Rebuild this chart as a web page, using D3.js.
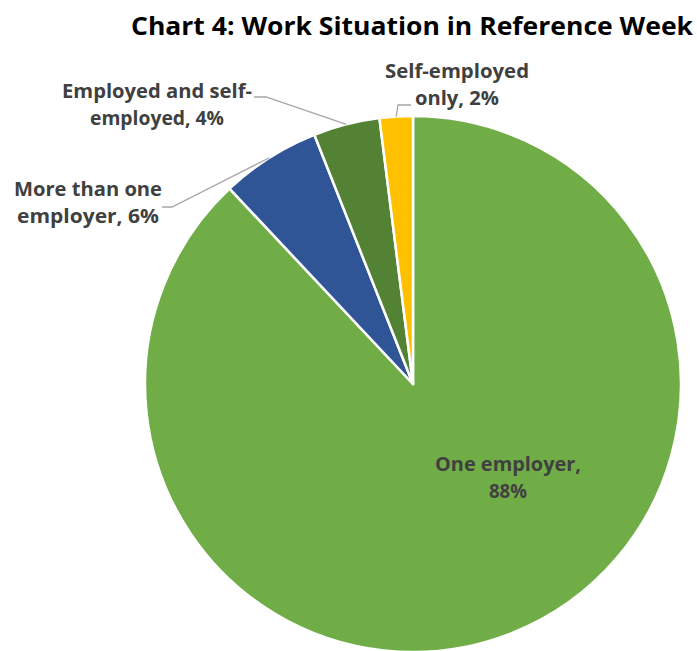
<!DOCTYPE html>
<html>
<head>
<meta charset="utf-8">
<script src="https://cdn.jsdelivr.net/npm/d3@7"></script>
<style>
  body { margin: 0; background: #fff; }
  svg text { font-family: "Open Sans", "Noto Sans", sans-serif; font-weight: bold; }
</style>
</head>
<body>
<div id="chart-area"></div>
<script>
// data
const categories = ['One employer', 'More than one employer', 'Employed and self-employed', 'Self-employed only'];
const values = [88, 6, 4, 2];
const colors = ['#70AD47', '#2F5597', '#548235', '#FFC000'];
const labelLines = [
  ['One employer,', '88%'],
  ['More than one', 'employer, 6%'],
  ['Employed and self-', 'employed, 4%'],
  ['Self-employed', 'only, 2%']
];

const width = 697, height = 651;
const cx = 413, cy = 384, radius = 268;
const fontColor = '#404040';

const svg = d3.select('#chart-area').append('svg')
  .attr('width', width)
  .attr('height', height);

// title
svg.append('text')
  .attr('x', 693)
  .attr('y', 35)
  .attr('text-anchor', 'end')
  .attr('font-size', 25)
  .attr('textLength', 562)
  .attr('lengthAdjust', 'spacingAndGlyphs')
  .attr('fill', '#000')
  .text('Chart 4: Work Situation in Reference Week');

const pie = d3.pie().sort(null).value(d => d);
const arcs = pie(values);
const arc = d3.arc().innerRadius(0).outerRadius(radius);

const g = svg.append('g').attr('transform', `translate(${cx},${cy})`);

g.selectAll('path')
  .data(arcs)
  .enter().append('path')
  .attr('d', arc)
  .attr('fill', (d, i) => colors[i])
  .attr('stroke', '#fff')
  .attr('stroke-width', 2.5)
  .attr('stroke-linejoin', 'round');

// label placement (hand placed like in the original chart)
const labelPos = [
  { x: 508, y: 471, anchor: 'middle', w: [146, 38] },
  { x: 88, y: 196, anchor: 'middle', w: [148, 142] },
  { x: 157, y: 98, anchor: 'middle', w: [190, 134] },
  { x: 457, y: 78, anchor: 'middle', w: [144, 84] }
];
const lineGap = 27;

// leader lines: from label to the slice edge at its middle angle
function edgePoint(d) {
  const a = (d.startAngle + d.endAngle) / 2;
  return [cx + radius * Math.sin(a), cy - radius * Math.cos(a)];
}
const leaders = [
  null,
  { start: [162, 207], knee: [172, 207] },
  { start: [254, 97], knee: [266, 97] },
  { start: [411, 105], knee: [398, 105] }
];

leaders.forEach((l, i) => {
  if (!l) return;
  const end = edgePoint(arcs[i]);
  svg.append('polyline')
    .attr('points', [l.start, l.knee, end].map(p => p.join(',')).join(' '))
    .attr('fill', 'none')
    .attr('stroke', '#A6A6A6')
    .attr('stroke-width', 1.3);
});

labelPos.forEach((p, i) => {
  labelLines[i].forEach((t, j) => {
    svg.append('text')
      .attr('x', p.x)
      .attr('y', p.y + j * lineGap)
      .attr('text-anchor', p.anchor)
      .attr('font-size', 19)
      .attr('textLength', p.w[j])
      .attr('lengthAdjust', 'spacingAndGlyphs')
      .attr('fill', fontColor)
      .text(t);
  });
});
</script>
</body>
</html>
